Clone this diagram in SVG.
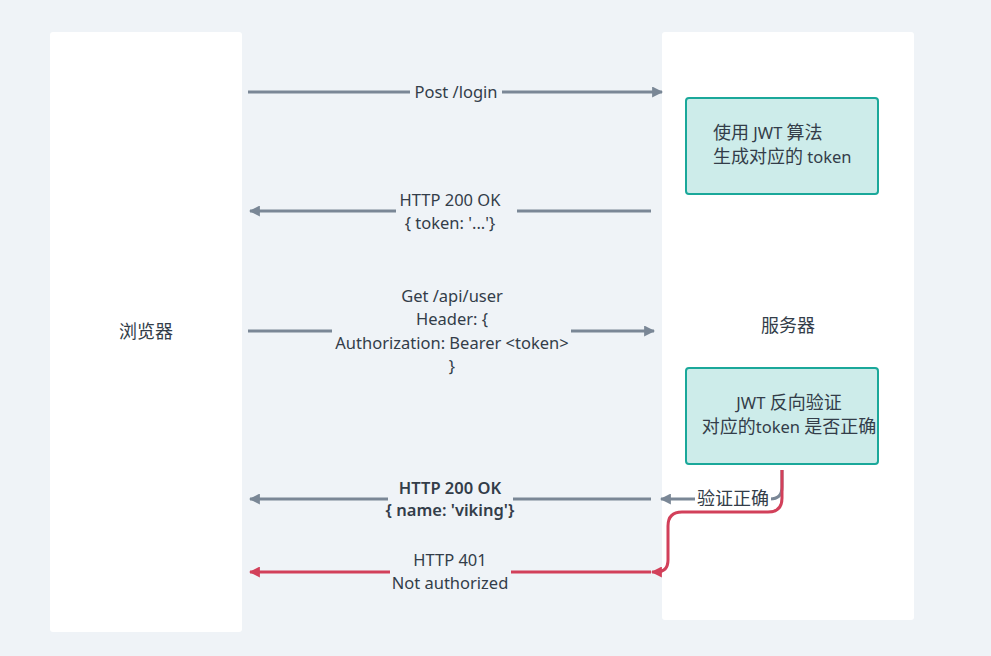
<svg xmlns="http://www.w3.org/2000/svg" width="991" height="656" viewBox="0 0 991 656">
<style>
text{font-family:"Noto Sans","Noto Sans CJK SC",sans-serif;font-size:16.5px;fill:#333d49;text-anchor:middle}
.c{font-size:18px}
.g{stroke:#7a8796;stroke-width:3;fill:none}
.r{stroke:#d2405a;stroke-width:3;fill:none}
.box{fill:#cdecea;stroke:#1aa89a;stroke-width:2}
</style>
<defs>
<marker id="ag" viewBox="0 0 10 10" refX="9" refY="5" markerWidth="11" markerHeight="11" markerUnits="userSpaceOnUse" orient="auto"><path d="M0,0 L10,5 L0,10 z" fill="#7a8796"/></marker>
<marker id="ar" viewBox="0 0 10 10" refX="9" refY="5" markerWidth="11" markerHeight="11" markerUnits="userSpaceOnUse" orient="auto"><path d="M0,0 L10,5 L0,10 z" fill="#d2405a"/></marker>
</defs>
<rect width="991" height="656" fill="#eff3f7"/>
<g id="browser"><rect x="50" y="32" width="192" height="600" rx="3" fill="#ffffff"/><text x="146" y="338" class="c">浏览器</text></g>
<g id="server"><rect x="662" y="32" width="252" height="588" rx="3" fill="#ffffff"/><text x="788" y="332" class="c">服务器</text></g>
<g id="gen"><rect class="box" x="686" y="98" width="192" height="96" rx="3"/><text x="713" y="139" style="text-anchor:start"><tspan class="c">使用</tspan> JWT <tspan class="c">算法</tspan></text><text x="713" y="163" style="text-anchor:start"><tspan class="c">生成对应的</tspan> token</text></g>
<g id="verify"><rect class="box" x="686" y="368" width="192" height="96" rx="3"/><text x="789" y="409">JWT <tspan class="c">反向验证</tspan></text><text x="789" y="433"><tspan class="c">对应的</tspan>token <tspan class="c">是否正确</tspan></text></g>
<g id="connectors">
<path class="g" d="M248,92 H410"/><path class="g" d="M502,92 H662" marker-end="url(#ag)"/>
<text x="456" y="98">Post /login</text>
<path class="g" d="M651,211 H517"/><path class="g" d="M396,211 H250" marker-end="url(#ag)"/>
<text x="450" y="206">HTTP 200 OK</text><text x="450" y="229">{ token: '...'}</text>
<path class="g" d="M248,331 H332"/><path class="g" d="M571,331 H654" marker-end="url(#ag)"/>
<text x="452" y="302">Get /api/user</text><text x="452" y="325">Header: {</text><text x="452" y="349">Authorization: Bearer &lt;token&gt;</text><text x="452" y="372">}</text>
<path class="g" d="M651,499 H513"/><path class="g" d="M388,499 H250" marker-end="url(#ag)"/>
<text x="450" y="494" font-weight="600">HTTP 200 OK</text><text x="450" y="516" font-weight="600">{ name: 'viking'}</text>
<path class="g" d="M782,470 V487 Q782,499 770,499 H661" marker-end="url(#ag)"/>
<rect x="695" y="488" width="76" height="22" fill="#ffffff"/>
<text x="733" y="505" class="c">验证正确</text>
<path class="r" d="M782,470 V498 Q782,512 768,512 H682 Q668,512 668,526 V560 Q668,572 656,572 H652" marker-end="url(#ar)"/>
<path class="r" d="M651,572 H511"/><path class="r" d="M390,572 H250" marker-end="url(#ar)"/>
<text x="450" y="566">HTTP 401</text><text x="450" y="589">Not authorized</text>
</g>
</svg>
